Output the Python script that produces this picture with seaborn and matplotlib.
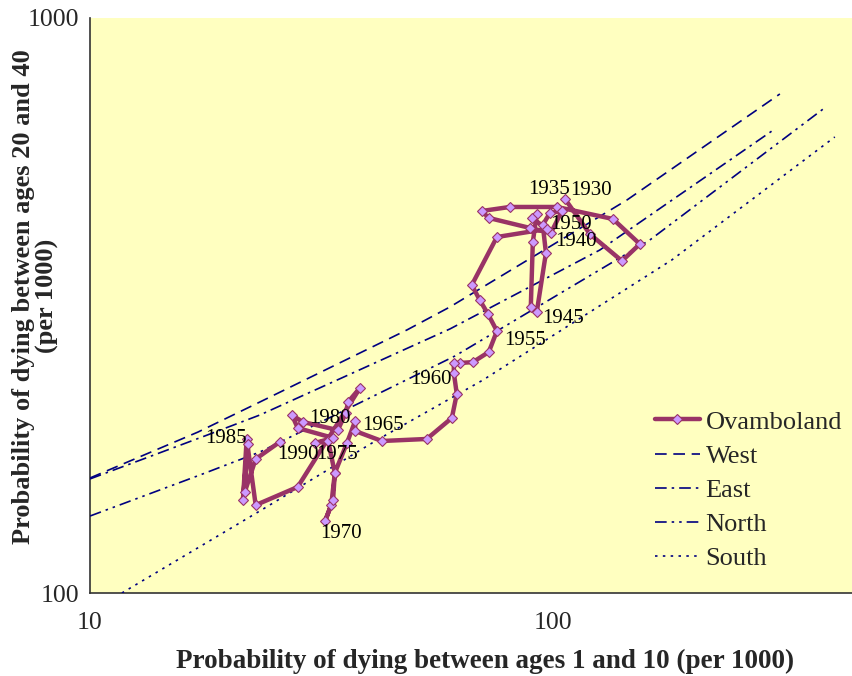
import matplotlib
matplotlib.use("Agg")
import matplotlib.pyplot as plt
import seaborn as sns
import pandas as pd
from matplotlib.ticker import FixedLocator, FixedFormatter, NullFormatter

# Ovamboland trajectory, one point per year
years = list(range(1930, 1991))
q_child = [106.2, 120.2, 141.0, 154.1, 134.8, 102.0, 80.7, 70.2, 72.7, 89.2,
           99.0, 104.6, 98.5, 95.1, 96.6, 92.3, 89.6, 90.5, 92.3, 90.1,
           97.1, 75.7, 66.8, 69.5, 72.4, 75.7, 72.7, 67.2, 63.0, 61.1,
           61.1, 62.0, 60.5, 53.4, 42.7, 37.4, 37.4, 35.9, 33.8, 33.2,
           32.2, 33.5, 33.8, 32.7, 30.6, 33.5, 28.1, 27.3, 28.8, 34.3,
           35.7, 36.1, 38.3, 28.1, 22.8, 21.8, 21.4, 21.9, 21.6, 22.8,
           25.7]
q_adult = [484.4, 421.0, 378.0, 404.5, 447.2, 469.2, 469.2, 461.7, 449.0, 431.4,
           422.8, 461.7, 458.0, 436.5, 390.3, 308.1, 314.4, 407.7, 456.2, 449.0,
           429.7, 416.0, 343.2, 323.3, 305.6, 285.5, 262.5, 252.1, 251.2, 251.2,
           241.3, 221.9, 201.6, 185.3, 183.8, 191.3, 199.2, 182.3, 161.7, 142.2,
           133.4, 145.1, 161.7, 183.8, 182.3, 186.1, 193.6, 204.0, 198.4, 192.0,
           205.6, 214.9, 227.3, 152.9, 142.2, 185.3, 145.1, 181.6, 149.9, 171.0,
           183.1]

# Coale-Demeny model families
west_x = [10.0, 17.11, 23.29, 48.37, 59.93, 144.5, 309.3]
west_y = [158.5, 190.5, 214.9, 286.7, 314.4, 482.4, 737.7]
east_x = [10.0, 17.72, 23.29, 59.93, 126.3, 297.2]
east_y = [157.9, 187.6, 204.0, 287.9, 394.9, 635.9]
north_x = [10.0, 17.28, 23.29, 61.42, 162.0, 388.7]
north_y = [136.1, 160.4, 175.9, 258.3, 411.1, 700.2]
south_x = [11.72, 23.88, 41.67, 70.60, 180.7, 406.5]
south_y = [100.0, 140.6, 184.5, 234.6, 379.5, 621.0]

labelled_years = [1930, 1935, 1940, 1945, 1950, 1955, 1960,
                  1965, 1970, 1975, 1980, 1985, 1990]

x_ticks = [10, 100]
x_tick_labels = ["10", "100"]
y_ticks = [100, 1000]
y_tick_labels = ["100", "1000"]

sns.set_style("white")
plt.rcParams["font.family"] = ["Liberation Serif", "DejaVu Serif"]

fig = plt.figure(figsize=(8.53, 6.76), dpi=100)
ax = fig.add_axes([90 / 853, 1 - 593 / 676, 763 / 853, 575 / 676])
ax.set_facecolor("#FFFFC0")

navy = "#000080"
plum = "#993366"

ova = pd.DataFrame({"year": years, "q1_10": q_child, "q20_40": q_adult})
sns.lineplot(data=ova, x="q1_10", y="q20_40", sort=False, estimator=None,
             color=plum, linewidth=3.2, marker="D", markersize=5,
             markerfacecolor="#CC99FF", markeredgecolor=plum,
             markeredgewidth=0.8, label="Ovamboland", ax=ax, zorder=5)

families = [
    ("West", west_x, west_y, (0, (7, 4))),
    ("East", east_x, east_y, (0, (7, 3, 1.5, 3))),
    ("North", north_x, north_y, (0, (7, 3, 1.5, 3, 1.5, 3))),
    ("South", south_x, south_y, (0, (1.5, 3.2))),
]
for name, fx, fy, dash in families:
    sns.lineplot(x=fx, y=fy, sort=False, estimator=None, color=navy,
                 linewidth=1.2, linestyle=dash, label=name, ax=ax, zorder=3)

ax.set_xscale("log")
ax.set_yscale("log")
ax.set_xlim(10, 445)
ax.set_ylim(100, 1000)

ax.xaxis.set_major_locator(FixedLocator(x_ticks))
ax.xaxis.set_major_formatter(FixedFormatter(x_tick_labels))
ax.xaxis.set_minor_locator(FixedLocator([20, 30, 40, 50, 60, 70, 80, 90, 200, 300, 400]))
ax.xaxis.set_minor_formatter(NullFormatter())
ax.yaxis.set_major_locator(FixedLocator(y_ticks))
ax.yaxis.set_major_formatter(FixedFormatter(y_tick_labels))
ax.yaxis.set_minor_locator(FixedLocator([200, 300, 400, 500, 600, 700, 800, 900]))
ax.yaxis.set_minor_formatter(NullFormatter())

for side in ["top", "right"]:
    ax.spines[side].set_visible(False)
for side in ["left", "bottom"]:
    ax.spines[side].set_color("#333333")
    ax.spines[side].set_linewidth(1.2)

ax.tick_params(axis="both", which="major", direction="out", length=6,
               width=1.0, color="#333333", labelsize=18.5)
ax.tick_params(axis="both", which="minor", direction="out", length=5,
               width=1.0, color="#333333")
ax.tick_params(axis="y", which="major", pad=2)
ax.tick_params(axis="x", which="major", pad=8)

ax.set_xlabel("Probability of dying between ages 1 and 10 (per 1000)",
              fontsize=19.5, fontweight="bold")
ax.set_ylabel("Probability of dying between ages 20 and 40\n(per 1000)",
              fontsize=19, fontweight="bold", linespacing=1.05)
ax.xaxis.set_label_coords(0.518, -0.098)
ax.yaxis.set_label_coords(-0.04, 0.516)

# year labels beside selected points (offsets in pixels)
offsets = {1930: (26, 9), 1935: (-8, 17), 1940: (25, -9), 1945: (26, -6),
           1950: (24, 4), 1955: (28, -9), 1960: (-23, -6), 1965: (28, 6),
           1970: (16, -12), 1975: (4, -17), 1980: (-16, -5), 1985: (-21, 0),
           1990: (18, -13)}
for yr in labelled_years:
    i = years.index(yr)
    ax.annotate(str(yr), (q_child[i], q_adult[i]), xytext=offsets[yr],
                textcoords="offset pixels", ha="center", va="center",
                fontsize=15, color="black", zorder=6)

leg = ax.legend(loc="upper left", bbox_to_anchor=(0.7405, 0.318),
                frameon=False, fontsize=19, handlelength=1.7,
                handletextpad=0.22, labelspacing=0.405, borderpad=0,
                borderaxespad=0)

fig.savefig("out.png", dpi=100, facecolor="white")
